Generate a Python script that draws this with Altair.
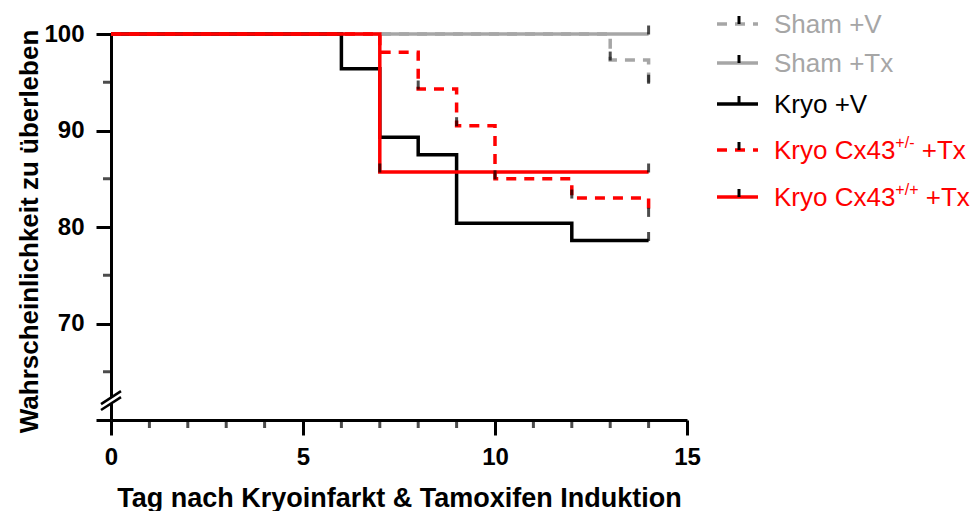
import altair as alt
import pandas as pd

# Kaplan-Meier survival (%) per group: step positions and censored observations
sham_v_days = [0, 13, 14]
sham_v_surv = [100, 97.3, 94.9]
sham_v_cens_days = [13, 14]
sham_v_cens_surv = [97.3, 94.9]

sham_tx_days = [0, 14]
sham_tx_surv = [100, 100]
sham_tx_cens_days = [14]
sham_tx_cens_surv = [100]

kryo_v_days = [0, 6, 7, 8, 9, 12, 14]
kryo_v_surv = [100, 96.4, 89.3, 87.5, 80.4, 78.6, 78.6]
kryo_v_cens_days = [14]
kryo_v_cens_surv = [78.6]

het_days = [0, 7, 8, 9, 10, 12, 14]
het_surv = [100, 98.1, 94.3, 90.5, 85.0, 83.0, 81.1]
het_cens_days = [8, 9, 10, 12, 14]
het_cens_surv = [94.3, 90.5, 85.0, 83.0, 81.1]

wt_days = [0, 7, 14]
wt_surv = [100, 85.7, 85.7]
wt_cens_days = [7, 14]
wt_cens_surv = [85.7, 85.7]

# axis ticks
x_major = [0, 5, 10, 15]
x_minor = [1, 2, 3, 4, 6, 7, 8, 9, 11, 12, 13, 14]
y_major = [60, 70, 80, 90, 100]
y_minor = [65, 75, 85, 95]
y_break = 62.3

GREY = "#a6a6a6"
RED = "#ff0000"
BLACK = "#000000"
FONT = "Liberation Sans"

# group: (legend main text, superscript, suffix, colour, dashed, steps, censored)
groups = [
    ("Sham +V", "", "", GREY, True,
     (sham_v_days, sham_v_surv), (sham_v_cens_days, sham_v_cens_surv)),
    ("Sham +Tx", "", "", GREY, False,
     (sham_tx_days, sham_tx_surv), (sham_tx_cens_days, sham_tx_cens_surv)),
    ("Kryo +V", "", "", BLACK, False,
     (kryo_v_days, kryo_v_surv), (kryo_v_cens_days, kryo_v_cens_surv)),
    ("Kryo Cx43", "+/-", "+Tx", RED, True,
     (het_days, het_surv), (het_cens_days, het_cens_surv)),
    ("Kryo Cx43", "+/+", "+Tx", RED, False,
     (wt_days, wt_surv), (wt_cens_days, wt_cens_surv)),
]

W, H = 576, 386
DASH = [10, 8]
LINE_W = 3.5

x_scale = alt.Scale(domain=[0, 15], nice=False, zero=False)
y_scale = alt.Scale(domain=[60, 100], nice=False, zero=False)

x_axis = alt.Axis(
    values=x_major, format="d", title="Tag nach Kryoinfarkt & Tamoxifen Induktion",
    grid=False, tickSize=15, tickWidth=3, tickColor=BLACK, domainWidth=3,
    domainColor=BLACK, labelFont=FONT, labelFontSize=24, labelFontWeight="bold",
    labelColor=BLACK, labelPadding=10, labelFlush=False, labelOverlap=False,
    titleFont=FONT, titleFontSize=27, titleFontWeight="bold", titleColor=BLACK,
    titleBaseline="alphabetic", titleY=86, titleX=W / 2, titleAlign="center",
)
y_axis = alt.Axis(
    values=y_major, format="d", labelExpr="datum.value == 60 ? '' : datum.label",
    title="Wahrscheinlichkeit zu überleben", grid=False, tickSize=15, tickWidth=3,
    tickColor=BLACK, domainWidth=3, domainColor=BLACK, labelFont=FONT,
    labelFontSize=24, labelFontWeight="bold", labelColor=BLACK, labelPadding=12,
    labelFlush=False, labelOverlap=False, titleFont=FONT, titleFontSize=26,
    titleFontWeight="bold", titleColor=BLACK, titleAngle=-90,
    titleBaseline="alphabetic", titleAlign="center", titleX=-74, titleY=197,
)

X = alt.X("day:Q", scale=x_scale, axis=x_axis)
Y = alt.Y("surv:Q", scale=y_scale, axis=y_axis)

layers = []

# minor ticks on both axes
layers.append(
    alt.Chart(pd.DataFrame({"day": x_minor, "surv": [y_major[0]] * len(x_minor)}))
    .mark_tick(orient="vertical", size=8, thickness=3, color=BLACK, yOffset=4)
    .encode(x=X, y=Y)
)
layers.append(
    alt.Chart(pd.DataFrame({"day": [0] * len(y_minor), "surv": y_minor}))
    .mark_tick(orient="horizontal", size=8, thickness=3, color=BLACK, xOffset=-4)
    .encode(x=X, y=Y)
)

# axis break symbol on the y axis
brk = pd.DataFrame({
    "day": [-0.28, -0.26, -0.26],
    "surv": [y_break - 0.95, y_break - 0.65, y_break - 1.27],
    "day2": [0.28, 0.26, 0.26],
    "surv2": [y_break + 0.39, y_break + 0.69, y_break + 0.07],
    "part": ["gap", "a", "b"],
})
layers.append(
    alt.Chart(brk[brk.part == "gap"]).mark_rule(color="white", strokeWidth=6)
    .encode(x=X, y=Y, x2="day2:Q", y2="surv2:Q")
)
layers.append(
    alt.Chart(brk[brk.part != "gap"]).mark_rule(color=BLACK, strokeWidth=2.5)
    .encode(x=X, y=Y, x2="day2:Q", y2="surv2:Q")
)

# survival step curves
for label, sup, suffix, color, dashed, (days, surv), _ in groups:
    kw = dict(interpolate="step-after", color=color, strokeWidth=LINE_W)
    if dashed:
        kw["strokeDash"] = DASH
    layers.append(
        alt.Chart(pd.DataFrame({"day": days, "surv": surv}))
        .mark_line(**kw).encode(x=X, y=Y)
    )

# censor marks
for label, sup, suffix, color, dashed, _, (cdays, csurv) in groups:
    layers.append(
        alt.Chart(pd.DataFrame({"day": cdays, "surv": csurv}))
        .mark_tick(orient="vertical", size=9, thickness=3, color=BLACK, yOffset=-4)
        .encode(x=X, y=Y)
    )

# legend (drawn to the right of the plot)
ARIAL_W = {"K": 667, "r": 333, "y": 500, "o": 556, " ": 278, "C": 722, "x": 500,
           "4": 556, "3": 556, "+": 584, "/": 278, "-": 333}


def text_width(s, size):
    return sum(ARIAL_W[c] for c in s) * size / 1000.0


legend_rows_y = [-10, 29, 70, 116, 163]
sym_x0, sym_x1 = W + 30, W + 71
sym_mid = W + 52
text_x = W + 87
LEG_SIZE, SUP_SIZE = 26, 16
one = pd.DataFrame({"k": [0]})

for (label, sup, suffix, color, dashed, _, _), ry in zip(groups, legend_rows_y):
    kw = dict(color=color, strokeWidth=LINE_W)
    if dashed:
        kw["strokeDash"] = DASH
    layers.append(
        alt.Chart(one).mark_rule(**kw).encode(
            x=alt.value(sym_x0), x2=alt.value(sym_x1), y=alt.value(ry))
    )
    layers.append(
        alt.Chart(one).mark_rule(color=BLACK, strokeWidth=3).encode(
            x=alt.value(sym_mid), y=alt.value(ry - 8), y2=alt.value(ry))
    )
    tkw = dict(align="left", baseline="alphabetic", font=FONT, color=color)
    layers.append(
        alt.Chart(one).mark_text(fontSize=LEG_SIZE, **tkw).encode(
            x=alt.value(text_x), y=alt.value(ry + 9), text=alt.value(label))
    )
    if sup:
        sx = text_x + text_width(label, LEG_SIZE)
        layers.append(
            alt.Chart(one).mark_text(fontSize=SUP_SIZE, **tkw).encode(
                x=alt.value(sx), y=alt.value(ry - 2), text=alt.value(sup))
        )
        # word gap before the suffix
        fx = sx + text_width(sup, SUP_SIZE) + text_width(" ", LEG_SIZE)
        layers.append(
            alt.Chart(one).mark_text(fontSize=LEG_SIZE, **tkw).encode(
                x=alt.value(fx), y=alt.value(ry + 9), text=alt.value(suffix))
        )

chart = (
    alt.layer(*layers)
    .properties(
        width=W, height=H, autosize="none",
        padding={"left": 111, "top": 34, "right": 971 - 111 - W, "bottom": 511 - 34 - H},
        background="white",
    )
    .configure_view(stroke=None)
)

chart.save("out.html", embed_options={"renderer": "svg", "actions": False})
